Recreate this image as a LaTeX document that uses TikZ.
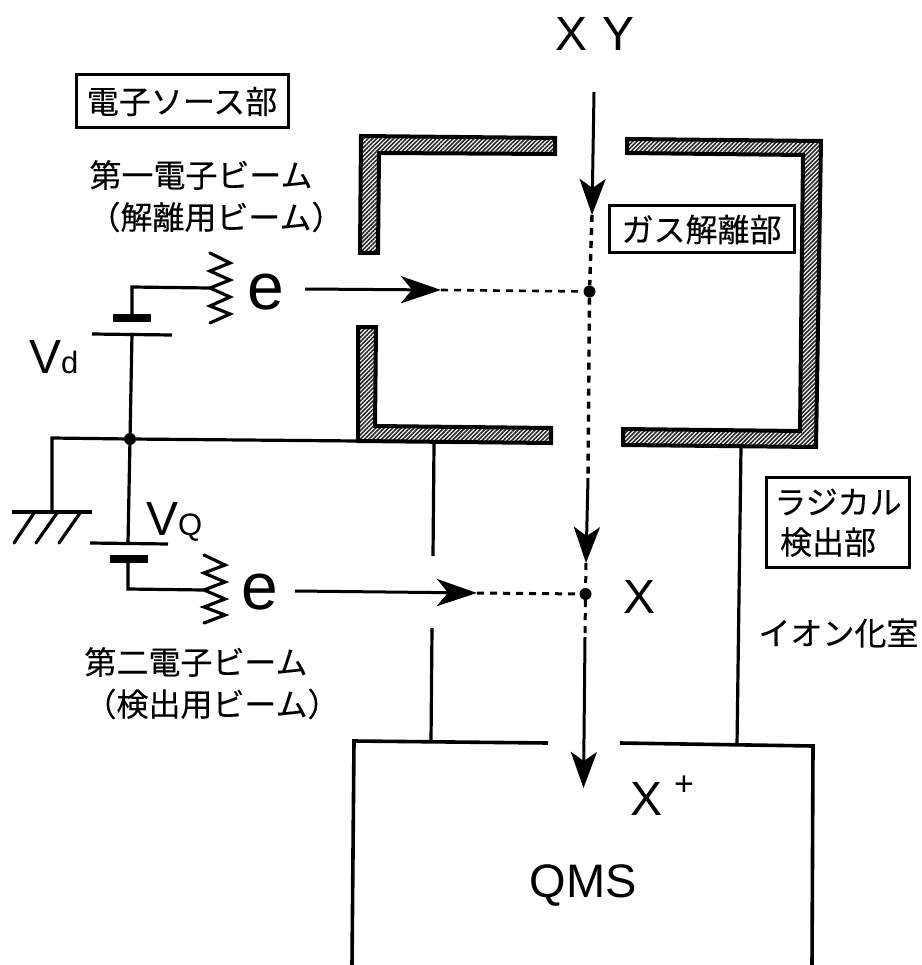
\documentclass[tikz,border=0pt]{standalone}
\usepackage{fontspec}
\setmainfont{Liberation Sans}
\newfontfamily\jp[FakeBold=0.25]{Noto Sans CJK JP}
\usetikzlibrary{arrows.meta,patterns.meta}
\tikzset{
  wire/.style={line width=3.2pt,line cap=round,line join=miter},
  wall/.style={draw=black,line width=4pt,fill=white,line join=miter,
    pattern={Lines[angle=45,distance=3pt,line width=1.6pt]},pattern color=black!85},
  plate/.style={line width=3.2pt},
  thickplate/.style={line width=8pt},
  beam/.style={line width=3pt,-{Stealth[length=36pt,width=26pt,inset=9pt]}},
  hbeam/.style={line width=3pt,-{Stealth[length=40pt,width=27pt,inset=11pt]}},
  dashbeam/.style={line width=2.6pt,dash pattern=on 7pt off 6pt},
  dot/.style={circle,fill=black,inner sep=0pt,minimum size=12pt},
  jtext/.style={font=\jp\fontsize{32}{38}\selectfont,inner sep=0pt,align=center},
  labelbox/.style={draw=black,line width=3pt,inner sep=0pt},
  lat/.style={inner sep=0pt,anchor=base},
}
\begin{document}
\begin{tikzpicture}[x=1pt,y=-1pt]
\useasboundingbox (0,0) rectangle (921,965);
% chamber walls
\draw[wall] (361,136)--(555,138)--(555,154)--(379,153)--(378,253)--(360,253)--cycle;
\draw[wall] (358,327)--(376,327)--(375,426)--(551,428)--(551,443)--(358,441)--cycle;
\draw[wall] (627,139)--(821,141)--(816,447)--(623,445)--(623,429)--(800,431)--(803,155)--(627,153)--cycle;
% named points
\coordinate (batTopWire) at (132,287);
\coordinate (res1) at (209,288);
\coordinate (plate1a) at (132,318);
\coordinate (plate1b) at (132,334);
\node[dot] (jn) at (130,439) {};
\coordinate (gndL) at (52,438);
\coordinate (gndT) at (52,512);
\coordinate (wallL) at (358,441);
\coordinate (plate2a) at (128,543);
\coordinate (plate2b) at (128,559);
\coordinate (batBotWire) at (128,589);
\coordinate (res2) at (204,590);
% upper battery
\draw[thickplate] (113,318)--(151,318);
\draw[plate] (92,334)--(172,335);
\draw[wire] (res1)--(batTopWire)--(plate1a);
\draw[wire] (plate1b)--(jn);
% common line and ground
\draw[wire] (jn)--(wallL);
\draw[wire] (jn)--(gndL)--(gndT);
\draw[plate] (12,512)--(92,512);
\draw[wire] (34,513)--(14,543);
\draw[wire] (57,513)--(36,543);
\draw[wire] (80,513)--(59,543);
% lower battery
\draw[wire] (jn)--(plate2a);
\draw[plate] (90,543)--(168,544);
\draw[thickplate] (110,559)--(148,559);
\draw[wire] (plate2b)--(batBotWire)--(res2);
% filaments
\draw[wire,line join=miter] (210,253)--(230,263)--(210,271)--(230,280)--(210,288)--(230,297)--(210,306)--(230,314)--(210,323);
\draw[wire,line join=miter] (204,555)--(225,565)--(204,573)--(225,582)--(204,590)--(225,599)--(204,607)--(225,615)--(204,623);
% e labels
\node[lat,font=\fontsize{66}{70}\selectfont] (e1) at (266,309) {e};
\node[lat,font=\fontsize{66}{70}\selectfont] (e2) at (260,609) {e};
% dots
\node[dot] (d1) at (589.5,291.5) {};
\node[dot] (d2) at (585.5,594) {};
% beams
\coordinate (b1s) at (305,289);
\coordinate (b1t) at (441,290);
\coordinate (b2s) at (295,591);
\coordinate (b2t) at (477,593);
\coordinate (xys) at (594,92);
\coordinate (xyt) at (592,215);
\coordinate (v2s) at (588,478);
\coordinate (v2t) at (586,563);
\coordinate (v3s) at (585,637);
\coordinate (v3t) at (583.5,788);
\draw[hbeam] (b1s)--(b1t);
\draw[dashbeam] (b1t)--(d1);
\draw[hbeam] (b2s)--(b2t);
\draw[dashbeam,line width=3pt] (b2t)--(d2);
\draw[beam] (xys)--(xyt);
\draw[dashbeam,line width=3.4pt] (xyt)--(d1);
\draw[dashbeam,line width=3.4pt] (d1)--(v2s);
\draw[beam] (v2s)--(v2t);
\draw[dashbeam,line width=3pt] (v2t)--(d2);
\draw[dashbeam,line width=3pt] (d2)--(v3s);
\draw[beam] (v3s)--(v3t);
% supports
\coordinate (s1a) at (434,444);
\coordinate (s1b) at (433,556);
\coordinate (s2a) at (432,628);
\coordinate (s2b) at (431,742);
\coordinate (s3a) at (741,447);
\coordinate (s3b) at (737,745);
\draw[wire,line cap=butt] (s1a)--(s1b);
\draw[wire,line cap=butt] (s2a)--(s2b);
\draw[wire,line cap=butt] (s3a)--(s3b);
% QMS box
\draw[line width=3.6pt] (548,743)--(354,741)--(352,965);
\draw[line width=3.6pt] (620,743)--(813,746)--(812,965);
% Latin labels
\node[lat,font=\fontsize{48}{52}\selectfont] (xy) at (595,51) {X\hspace{15pt}Y};
\node[lat,font=\fontsize{48}{52}\selectfont] (x) at (639,613) {X};
\node[lat,font=\fontsize{48}{52}\selectfont] (xp) at (646,815) {X};
\node[lat,font=\fontsize{34}{36}\selectfont] (pl) at (684,795) {+};
\node[lat,font=\fontsize{47}{52}\selectfont] (qms) at (583,897) {QMS};
\node[lat,anchor=base west,font=\fontsize{48}{52}\selectfont] (vd) at (29,373) {V\fontsize{31}{34}\selectfont d};
\node[lat,anchor=base west,font=\fontsize{48}{52}\selectfont] (vq) at (146,535) {V\fontsize{31}{34}\selectfont Q};
% Japanese labels
\node[labelbox,minimum width=212pt,minimum height=53pt] (b1) at (182,101.5) {};
\node[jtext] at (b1) {電子ソース部};
\node[jtext] (t1) at (201,175) {第一電子ビーム};
\node[jtext] (t2) at (216,217) {（解離用ビーム）};
\node[jtext] (t3) at (196,662) {第二電子ビーム};
\node[jtext] (t4) at (212,704) {（検出用ビーム）};
\node[labelbox,minimum width=185pt,minimum height=47pt] (b2) at (701.5,229.5) {};
\node[jtext] at (b2) {ガス解離部};
\node[labelbox,minimum width=143pt,minimum height=90pt] (b3) at (837.5,522) {};
\node[jtext] (t5) at (838,502) {ラジカル};
\node[jtext] (t6) at (828,542) {検出部};
\node[jtext] (t7) at (838.5,633) {イオン化室};
\end{tikzpicture}
\end{document}
